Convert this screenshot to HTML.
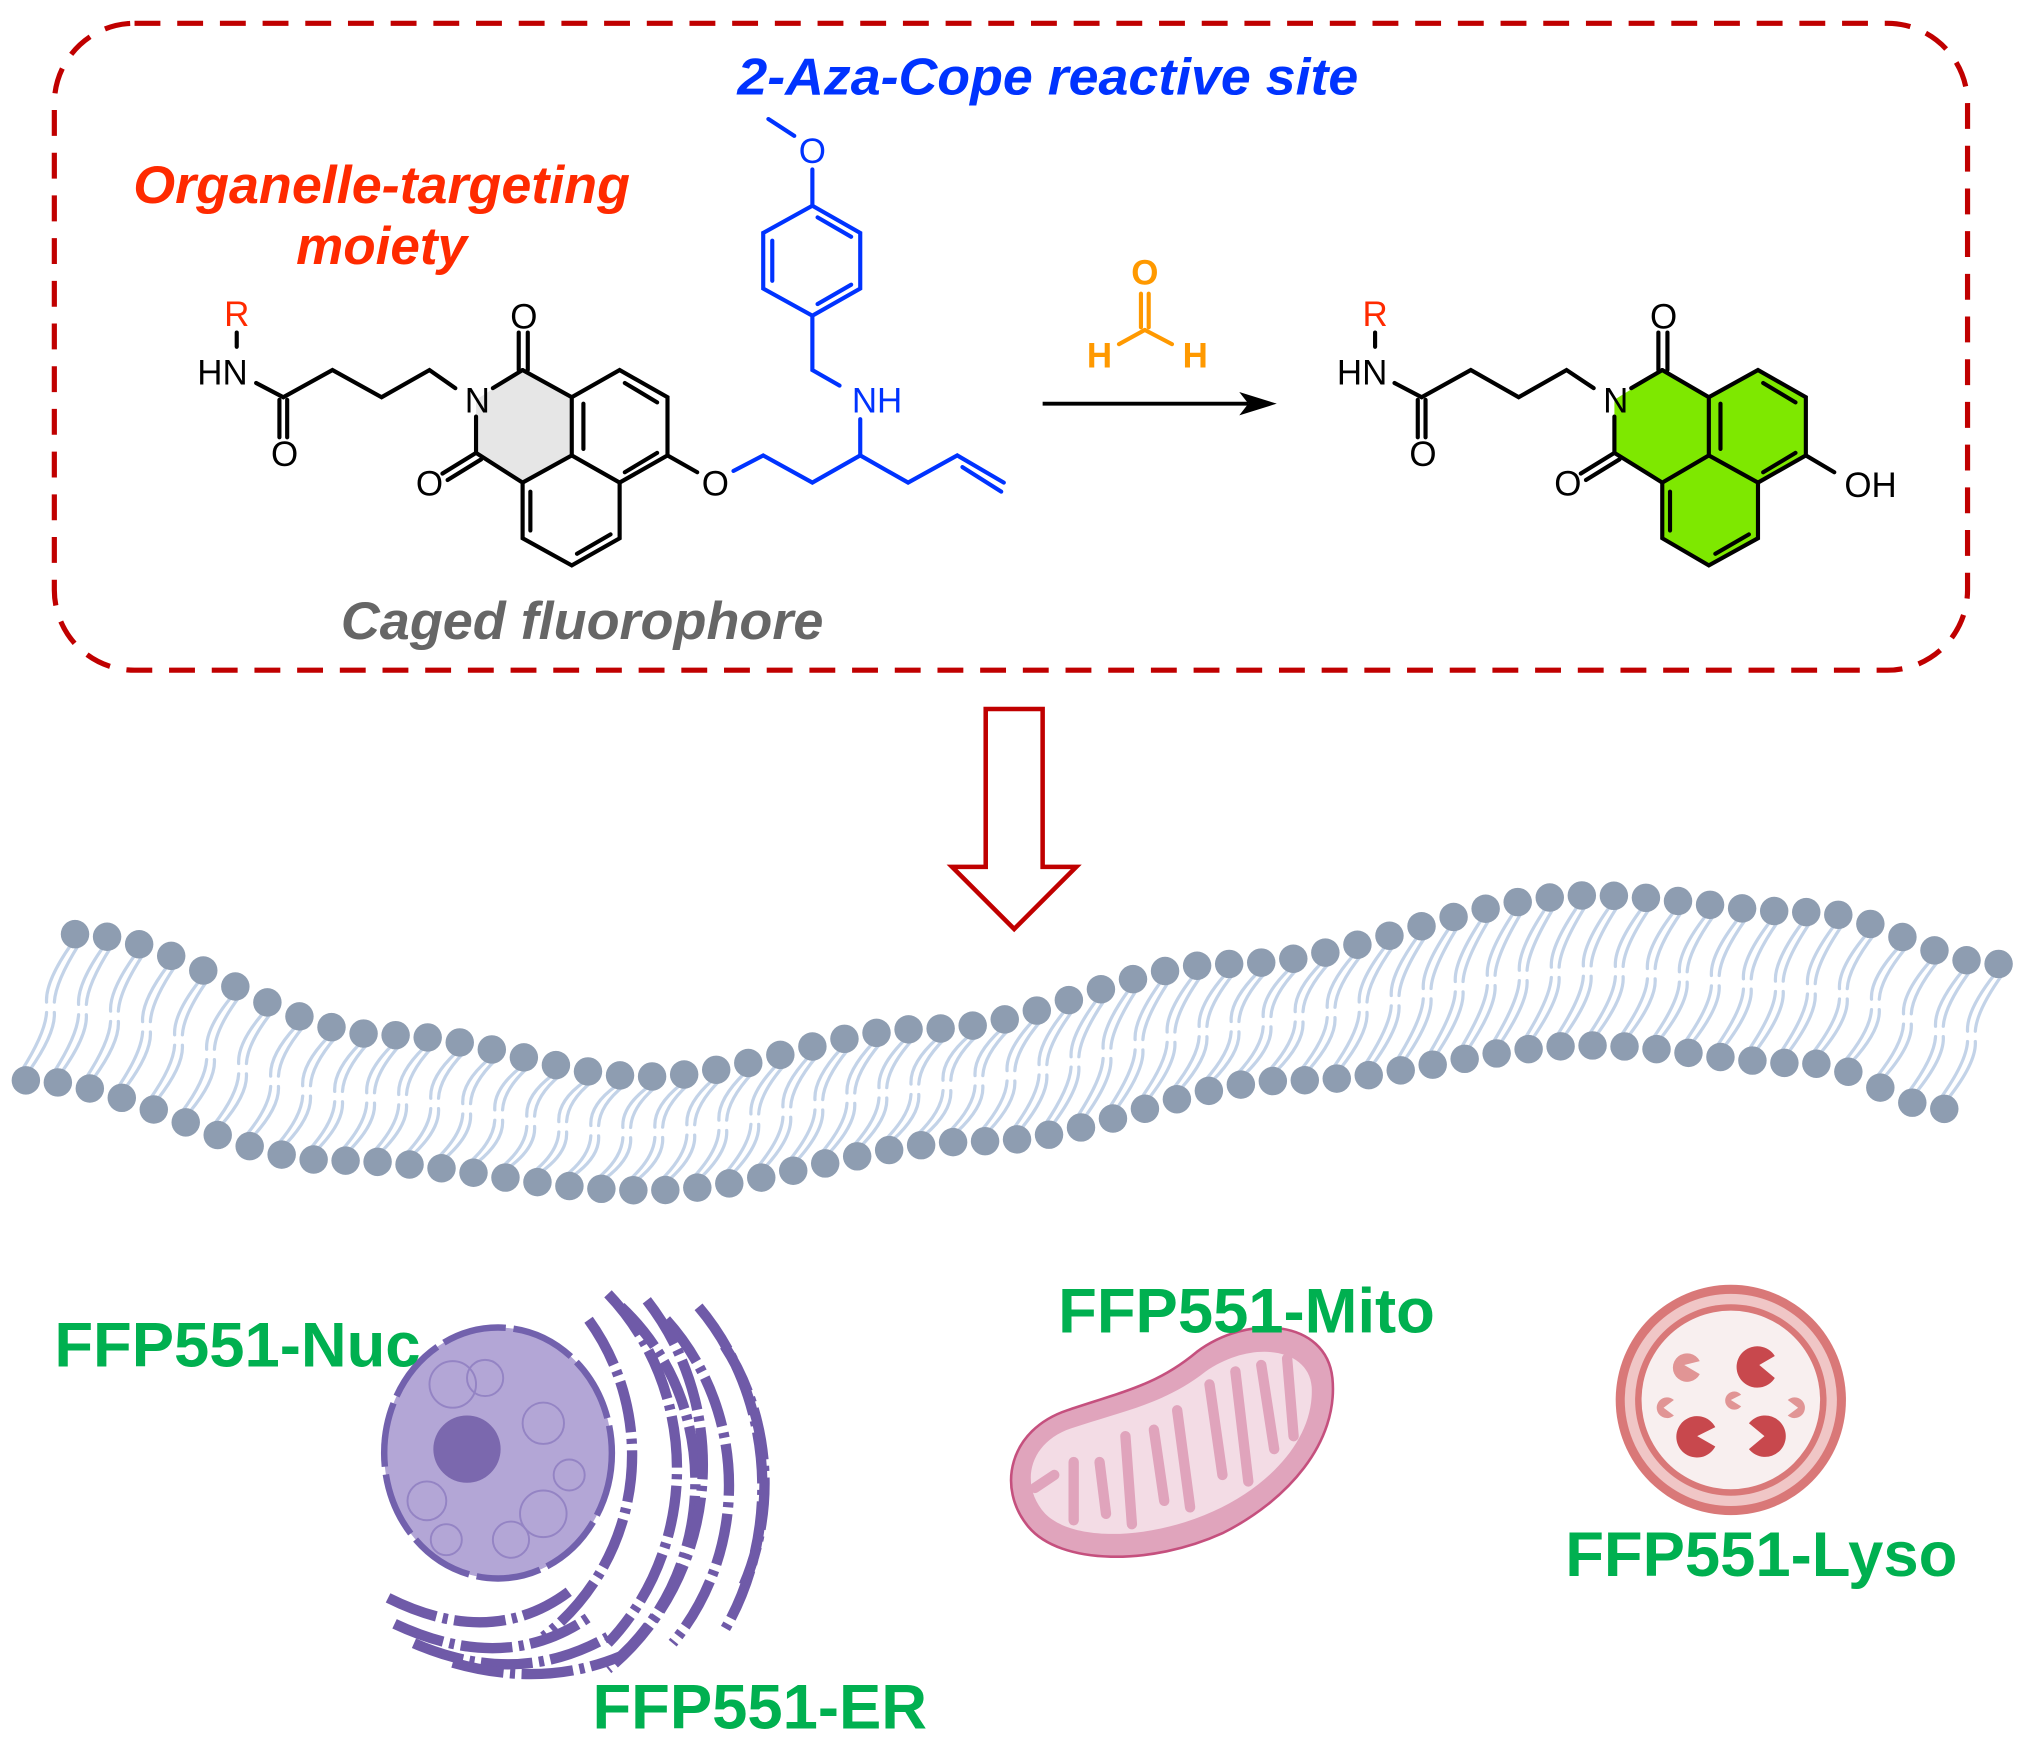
<!DOCTYPE html>
<html><head><meta charset="utf-8">
<style>
html,body{margin:0;padding:0;background:#fff;}
svg{display:block;}
text{font-family:"Liberation Sans",sans-serif;}
</style></head>
<body>
<svg id="s" width="2018" height="1748" viewBox="0 0 1560 1351" preserveAspectRatio="none" xmlns="http://www.w3.org/2000/svg">
<rect x="42" y="18" width="1479" height="500" rx="62" ry="62" fill="none" stroke="#c00000" stroke-width="4" stroke-dasharray="20,13"/>

<text x="810" y="73" text-anchor="middle" font-size="40" font-weight="bold" font-style="italic" fill="#0033ff" textLength="480" lengthAdjust="spacingAndGlyphs">2-Aza-Cope reactive site</text>
<text x="295" y="157" text-anchor="middle" font-size="41" font-weight="bold" font-style="italic" fill="#ff2a00" textLength="384" lengthAdjust="spacingAndGlyphs">Organelle-targeting</text>
<text x="295" y="204" text-anchor="middle" font-size="41" font-weight="bold" font-style="italic" fill="#ff2a00">moiety</text>
<text x="450" y="494" text-anchor="middle" font-size="41" font-weight="bold" font-style="italic" fill="#666" textLength="373" lengthAdjust="spacingAndGlyphs">Caged fluorophore</text>

<!-- LEFT MOLECULE -->
<polygon points="368,309 404,286 442,307 442,352 404,373 368,350" fill="#e6e6e6"/>
<g stroke="#000" stroke-width="3.2" fill="none" stroke-linecap="round">
<line x1="183" y1="257" x2="183" y2="268"/>
<polyline points="198,296 219,307 257,286 295,307 332,286 352,300"/>
<line x1="216" y1="309" x2="216" y2="338"/><line x1="222" y1="309" x2="222" y2="338"/>
<line x1="381" y1="300" x2="404" y2="286"/>
<line x1="401" y1="286" x2="401" y2="257"/><line x1="408" y1="286" x2="408" y2="257"/>
<polyline points="404,286 442,307 442,352 404,373 368,350 368,322"/>
<line x1="368" y1="350" x2="342" y2="366"/><line x1="372" y1="355" x2="346" y2="371"/>
<polyline points="442,307 479,286 516,307 516,352 479,373 442,352"/>
<polyline points="404,373 404,416 442,437 479,416 479,373"/>
<line x1="410" y1="380" x2="410" y2="410"/>
<line x1="446" y1="428" x2="472" y2="413"/>
<line x1="451" y1="312" x2="451" y2="347"/>
<line x1="483" y1="296" x2="508" y2="311"/>
<line x1="483" y1="365" x2="508" y2="350"/>
<line x1="516" y1="352" x2="539" y2="365"/>
</g>
<g font-size="27" fill="#000">
<text x="183" y="252" text-anchor="middle" fill="#ff2a00">R</text>
<text x="172" y="297" text-anchor="middle">HN</text>
<text x="220" y="360" text-anchor="middle">O</text>
<text x="405" y="254" text-anchor="middle">O</text>
<text x="369" y="319" text-anchor="middle">N</text>
<text x="332" y="383" text-anchor="middle">O</text>
<text x="553" y="383" text-anchor="middle">O</text>
</g>
<g stroke="#0033ff" stroke-width="3.2" fill="none" stroke-linecap="round">
<polyline points="567,364 590,352 628,373 665,352 702,373 740,352 776,373"/>
<line x1="744" y1="361" x2="774" y2="380"/>
<line x1="665" y1="352" x2="665" y2="324"/>
<polyline points="649,298 628,286 628,244 590,223 590,180 628,159 665,180 665,223 628,244"/>
<line x1="597" y1="186" x2="597" y2="217"/>
<line x1="632" y1="168" x2="658" y2="183"/>
<line x1="632" y1="235" x2="658" y2="220"/>
<line x1="628" y1="159" x2="628" y2="131"/>
<line x1="614" y1="105" x2="594" y2="92"/>
</g>
<g font-size="27" fill="#0033ff">
<text x="628" y="126" text-anchor="middle">O</text>
<text x="678" y="319" text-anchor="middle">NH</text>
</g>

<line x1="806" y1="312" x2="965" y2="312" stroke="#000" stroke-width="3"/>
<polygon points="987,312 958,303 965,312 958,321" fill="#000"/>
<g stroke="#ff9900" stroke-width="3.2" stroke-linecap="round">
<line x1="882" y1="227" x2="882" y2="253"/><line x1="888" y1="227" x2="888" y2="253"/>
<line x1="885" y1="255" x2="865" y2="266"/><line x1="885" y1="255" x2="906" y2="266"/>
</g>
<g font-size="27" font-weight="bold" fill="#ff9900">
<text x="885" y="220" text-anchor="middle">O</text>
<text x="850" y="284" text-anchor="middle">H</text>
<text x="924" y="284" text-anchor="middle">H</text>
</g>

<!-- RIGHT MOLECULE -->
<polygon points="1248,309 1285,286 1321,307 1359,286 1396,307 1396,352 1359,373 1359,416 1321,437 1285,416 1285,373 1248,350" fill="#7ee800"/>
<g stroke="#000" stroke-width="3.2" fill="none" stroke-linecap="round">
<line x1="1063" y1="257" x2="1063" y2="268"/>
<polyline points="1078,296 1099,307 1137,286 1174,307 1211,286 1232,300"/>
<line x1="1096" y1="309" x2="1096" y2="338"/><line x1="1102" y1="309" x2="1102" y2="338"/>
<line x1="1261" y1="300" x2="1285" y2="286"/>
<line x1="1282" y1="286" x2="1282" y2="257"/><line x1="1289" y1="286" x2="1289" y2="257"/>
<polyline points="1285,286 1321,307 1321,352 1285,373 1248,350 1248,322"/>
<line x1="1248" y1="350" x2="1222" y2="366"/><line x1="1252" y1="355" x2="1226" y2="371"/>
<polyline points="1321,307 1359,286 1396,307 1396,352 1359,373 1321,352"/>
<polyline points="1285,373 1285,416 1321,437 1359,416 1359,373"/>
<line x1="1291" y1="380" x2="1291" y2="410"/>
<line x1="1326" y1="428" x2="1352" y2="413"/>
<line x1="1330" y1="312" x2="1330" y2="347"/>
<line x1="1363" y1="296" x2="1388" y2="311"/>
<line x1="1363" y1="365" x2="1388" y2="350"/>
<line x1="1396" y1="352" x2="1418" y2="365"/>
</g>
<g font-size="27" fill="#000">
<text x="1063" y="252" text-anchor="middle" fill="#ff2a00">R</text>
<text x="1053" y="297" text-anchor="middle">HN</text>
<text x="1100" y="360" text-anchor="middle">O</text>
<text x="1286" y="254" text-anchor="middle">O</text>
<text x="1249" y="319" text-anchor="middle">N</text>
<text x="1212" y="383" text-anchor="middle">O</text>
<text x="1446" y="384" text-anchor="middle">OH</text>
</g>

<polygon points="762,548 806,548 806,670 832,670 784,718 736,670 762,670" fill="#fff" stroke="#c00000" stroke-width="3.5"/>

<g id="mem"></g>

<!-- ER -->
<g fill="none" stroke="#6f5aa8" stroke-width="8" stroke-dasharray="40,5,4,5">
<path d="M 470 1000 A 180 190 0 0 1 470 1270"/>
<path d="M 455 1020 A 170 175 0 0 1 420 1265"/>
<path d="M 480 1010 A 170 180 0 0 1 480 1280"/>
<path d="M 500 1005 A 190 200 0 0 1 470 1290"/>
<path d="M 515 1020 A 175 185 0 0 1 520 1270"/>
<path d="M 540 1010 A 175 200 0 0 1 560 1260"/>
<path d="M 560 1040 A 160 180 0 0 1 575 1225"/>
<path d="M 300 1235 Q 380 1275 440 1230"/>
<path d="M 305 1255 Q 390 1295 455 1250"/>
<path d="M 320 1270 Q 400 1305 470 1265"/>
<path d="M 350 1285 Q 420 1305 480 1280"/>
</g>
<ellipse cx="385" cy="1123" rx="88" ry="97" fill="#b3a6d6" stroke="#7261ad" stroke-width="5" stroke-dasharray="50,6"/>
<g fill="none" stroke="#9484c4" stroke-width="1.5">
<circle cx="350" cy="1070" r="18"/><circle cx="375" cy="1065" r="14"/><circle cx="420" cy="1100" r="16"/>
<circle cx="330" cy="1160" r="15"/><circle cx="420" cy="1170" r="18"/><circle cx="395" cy="1190" r="14"/>
<circle cx="440" cy="1140" r="12"/><circle cx="345" cy="1190" r="12"/>
</g>
<circle cx="361" cy="1120" r="26" fill="#7b68ae"/>

<!-- Mito -->
<path d="M 795 1180 C 770 1150 780 1105 825 1090 C 870 1075 895 1070 925 1045 C 965 1015 1025 1020 1030 1065 C 1035 1115 995 1160 945 1185 C 890 1210 820 1210 795 1180 Z" fill="#e0a4bc" stroke="#c5507e" stroke-width="2"/>
<path d="M 808 1170 C 788 1148 795 1115 828 1104 C 870 1090 900 1085 932 1060 C 968 1035 1012 1042 1014 1072 C 1016 1112 982 1148 938 1168 C 890 1190 830 1192 808 1170 Z" fill="#f3dce5"/>
<g stroke="#e0a4bc" stroke-width="8" stroke-linecap="round" fill="none">
<path d="M 800 1150 L 815 1140"/><path d="M 830 1175 L 830 1130"/><path d="M 850 1130 L 855 1170"/>
<path d="M 875 1178 L 870 1110"/><path d="M 892 1105 L 900 1160"/><path d="M 920 1165 L 910 1090"/>
<path d="M 935 1070 L 945 1140"/><path d="M 965 1145 L 955 1060"/><path d="M 975 1055 L 985 1120"/>
<path d="M 1000 1110 L 995 1050"/>
</g>

<!-- Lyso -->
<circle cx="1338" cy="1082" r="89" fill="#d97878"/>
<circle cx="1338" cy="1082" r="82" fill="#f0c6c6"/>
<circle cx="1338" cy="1082" r="74" fill="#d97878"/>
<circle cx="1338" cy="1082" r="69" fill="#f8efef"/>
<g fill="#c8484d">
<path d="M 1360 1055 L 1372 1065 A 16 16 0 1 1 1372 1048 Z"/>
<path d="M 1312 1110 L 1326 1103 A 16 16 0 1 0 1326 1118 Z"/>
<path d="M 1364 1110 L 1352 1120 A 16 16 0 1 0 1352 1100 Z"/>
</g>
<g fill="#e19595">
<path d="M 1302 1055 L 1314 1052 A 11 11 0 1 0 1314 1062 Z"/>
<path d="M 1338 1082 L 1346 1078 A 7 7 0 1 0 1346 1087 Z"/>
<path d="M 1286 1088 L 1294 1082 A 8 8 0 1 0 1294 1094 Z"/>
<path d="M 1390 1088 L 1382 1082 A 8 8 0 1 1 1382 1094 Z"/>
</g>

<g font-size="49" font-weight="bold" fill="#00b050">
<text x="42" y="1056">FFP551-Nuc</text>
<text x="818" y="1030">FFP551-Mito</text>
<text x="1210" y="1218">FFP551-Lyso</text>
<text x="458" y="1336">FFP551-ER</text>
</g>
</svg>
<script>
(function(){
function interp(pts,x){
  for(var i=0;i<pts.length-1;i++){
    var a=pts[i],b=pts[i+1];
    if(x>=a[0]&&x<=b[0]){var t=(x-a[0])/(b[0]-a[0]);t=(1-Math.cos(t*Math.PI))/2;return a[1]+(b[1]-a[1])*t;}
  }
  return pts[pts.length-1][1];
}
var up=[[58,722],[300,800],[500,832],[720,795],[950,745],[1230,692],[1400,705],[1545,745]];
var lo=[[20,835],[260,897],[500,920],[760,882],[1000,835],[1230,808],[1400,822],[1503,857]];
var g=document.getElementById("mem");
var tails="",heads="";
var n=61;
for(var i=0;i<n;i++){
  var xu=58+(1545-58)*i/(n-1), yu=interp(up,xu);
  var xl=20+(1503-20)*i/(n-1), yl=interp(lo,xl);
  var xm=(xu+xl)/2, ym=(yu+yl)/2;
  tails+="M"+(xu-3)+","+(yu+8)+" Q"+(xm-4)+","+(ym-20)+" "+(xm-3)+","+(ym-4)+" ";
  tails+="M"+(xu+3)+","+(yu+8)+" Q"+(xm+4)+","+(ym-20)+" "+(xm+3)+","+(ym-4)+" ";
  tails+="M"+(xl-3)+","+(yl-8)+" Q"+(xm-4)+","+(ym+20)+" "+(xm-3)+","+(ym+4)+" ";
  tails+="M"+(xl+3)+","+(yl-8)+" Q"+(xm+4)+","+(ym+20)+" "+(xm+3)+","+(ym+4)+" ";
  heads+='<ellipse cx="'+xu+'" cy="'+yu+'" rx="11" ry="11"/>';
  heads+='<ellipse cx="'+xl+'" cy="'+yl+'" rx="11" ry="11"/>';
}
g.innerHTML='<path d="'+tails+'" fill="none" stroke="#c3d3e8" stroke-width="2.5" stroke-linecap="round"/><g fill="#8e9db1">'+heads+'</g>';
})();
</script>
</body></html>
